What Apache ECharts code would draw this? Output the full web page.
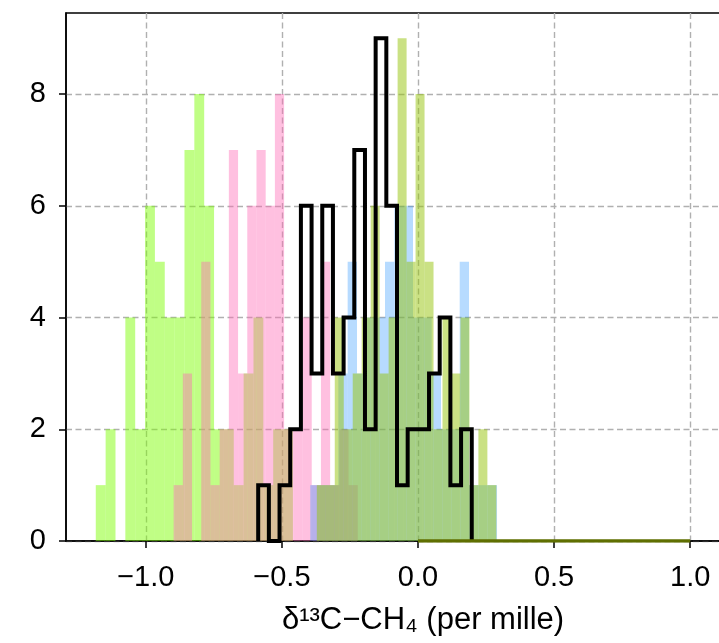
<!DOCTYPE html>
<html><head><meta charset="utf-8">
<script src="https://cdn.jsdelivr.net/npm/echarts@6/dist/echarts.min.js"></script>
<style>html,body{margin:0;padding:0;background:#fff}#c{width:719px;height:643px}</style>
</head><body><div id="c"></div>
<script>
// Histogram data (20 bins per series, bins span [lo, hi])
const limeRange = [-1.1838, -0.4596];
const limeCounts = [1,2,0,4,2,6,5,4,4,7,8,6,2,2,1,3,4,1,2,2];
const pinkRange = [-0.8978, -0.2213];
const pinkCounts = [1,3,0,5,1,2,7,3,6,7,6,8,2,2,4,1,5,1,2,1];
const blueRange = [-0.3956, 0.2904];
const blueCounts = [1,1,1,3,5,3,4,4,5,6,6,4,4,3,2,2,5,1,1,1];
const oliveRange = [-0.3717, 0.2879];
const oliveCounts = [1,1,4,2,3,4,6,3,4,9,5,8,5,2,4,3,4,1,2,1];
const stepRange = [-0.5871, 0.1975];
const stepCounts = [1,0,1,2,6,3,6,3,4,7,2,9,6,1,2,2,3,4,1,2];
const flatRange = [0.0, 1.0];          // empty histogram lying on the axis
const xTicks = [-1.0, -0.5, 0.0, 0.5, 1.0];
const yTicks = [0, 2, 4, 6, 8];
const xLimits = [-1.2932, 1.330];
const yLimits = [0, 9.45];
const xTitle = 'δ¹³C−CH₄ (per mille)';

const FONT = 'Liberation Sans';

function histSeries(name, range, counts, color, z) {
  const n = counts.length, w = (range[1] - range[0]) / n;
  const data = counts.map((c, i) => [range[0] + i * w, range[0] + (i + 1) * w, c]);
  return {
    type: 'custom', name: name, z: z, clip: true,
    encode: { x: [0, 1], y: 2 },
    renderItem: function (params, api) {
      const c = api.value(2);
      if (!c) return null;
      const p0 = api.coord([api.value(0), c]);
      const p1 = api.coord([api.value(1), 0]);
      return { type: 'rect', shape: { x: p0[0], y: p0[1], width: p1[0] - p0[0], height: p1[1] - p0[1] },
               style: { fill: color } };
    },
    data: data
  };
}
function stepPoints(range, counts) {
  const n = counts.length, w = (range[1] - range[0]) / n;
  const pts = [[range[0], 0]];
  counts.forEach((c, i) => { pts.push([range[0] + i * w, c]); pts.push([range[0] + (i + 1) * w, c]); });
  pts.push([range[1], 0]);
  return pts;
}
const fmtX = v => (v < 0 ? '\u2212' : '') + Math.abs(v).toFixed(1);

const chart = echarts.init(document.getElementById('c'), null, { renderer: 'canvas' });
chart.setOption({
  animation: false,
  backgroundColor: '#fff',
  grid: { left: 66, top: 13, width: 714, height: 528, outerBoundsMode: 'none', containLabel: false,
          show: true, borderColor: '#000', borderWidth: 1.5, backgroundColor: 'transparent' },
  xAxis: {
    type: 'value', min: xLimits[0], max: xLimits[1],
    axisLine: { show: true, onZero: false, lineStyle: { color: '#000', width: 1.5 } },
    axisTick: { show: true, customValues: xTicks, length: 7, lineStyle: { color: '#000', width: 1.5 } },
    axisLabel: { customValues: xTicks, formatter: fmtX, color: '#000', fontSize: 29, fontFamily: FONT, margin: 22 },
    splitLine: { show: true, lineStyle: { color: '#b0b0b0', type: [6, 3.5], width: 1.4 } },
    name: xTitle, nameLocation: 'middle', nameGap: 64,
    nameTextStyle: { color: '#000', fontSize: 31, fontFamily: FONT }
  },
  yAxis: {
    type: 'value', min: yLimits[0], max: yLimits[1],
    axisLine: { show: true, onZero: false, lineStyle: { color: '#000', width: 1.5 } },
    axisTick: { show: true, customValues: yTicks, length: 7, lineStyle: { color: '#000', width: 1.5 } },
    axisLabel: { customValues: yTicks, color: '#000', fontSize: 29, fontFamily: FONT, margin: 20 },
    splitLine: { show: true, lineStyle: { color: '#b0b0b0', type: [6, 3.5], width: 1.4 } }
  },
  series: [
    histSeries('lime', limeRange, limeCounts, 'rgba(124,252,0,0.48)', 2),
    histSeries('pink', pinkRange, pinkCounts, 'rgba(255,105,180,0.42)', 3),
    histSeries('blue', blueRange, blueCounts, 'rgba(30,144,255,0.32)', 4),
    histSeries('olive', oliveRange, oliveCounts, 'rgba(150,195,10,0.5)', 5),
    { type: 'line', z: 10, data: stepPoints(stepRange, stepCounts), showSymbol: false, symbol: 'none',
      lineStyle: { color: '#000', width: 4, join: 'miter', cap: 'butt' } },
    { type: 'line', z: 11, data: [[flatRange[0], 0], [flatRange[1], 0]], showSymbol: false, symbol: 'none',
      lineStyle: { color: '#5f6f00', width: 3.5 } }
  ]
});
</script></body></html>
